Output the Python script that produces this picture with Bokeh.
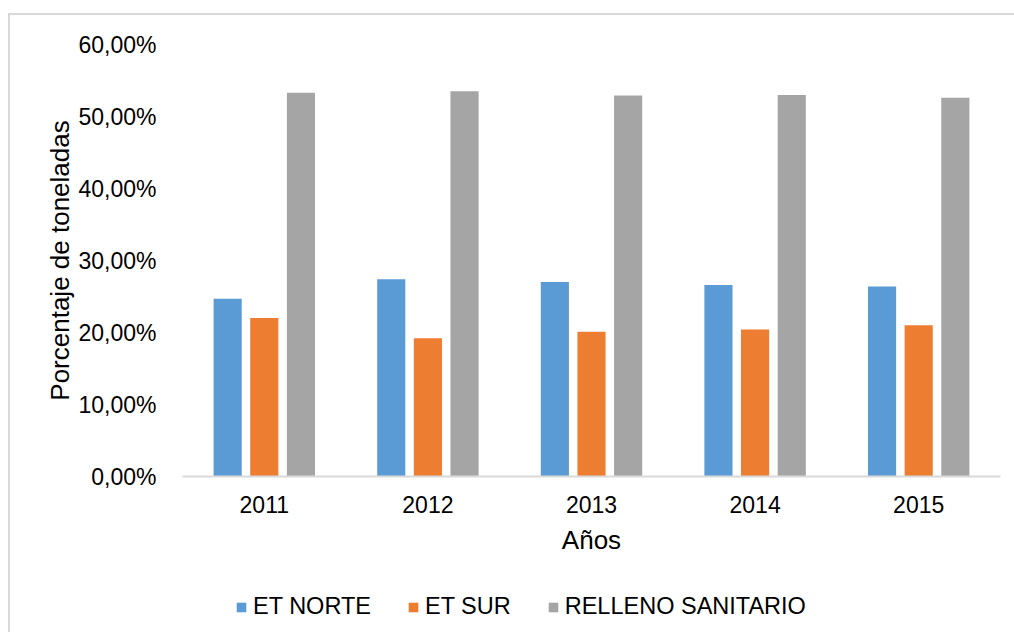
from bokeh.plotting import figure
from bokeh.models import FactorRange, Legend, LegendItem, FixedTicker, ColumnDataSource
from bokeh.transform import dodge
from bokeh.layouts import column
from bokeh.embed import file_html
from bokeh.resources import INLINE

# ---- data ----
years = ["2011", "2012", "2013", "2014", "2015"]
et_norte = [24.7, 27.4, 27.0, 26.6, 26.4]
et_sur = [22.0, 19.2, 20.1, 20.4, 21.0]
relleno = [53.3, 53.5, 52.9, 53.0, 52.6]
series_names = ["ET NORTE", "ET SUR", "RELLENO SANITARIO"]
y_ticks = [0, 10, 20, 30, 40, 50, 60]
y_tick_labels = ["0,00%", "10,00%", "20,00%", "30,00%", "40,00%", "50,00%", "60,00%"]

colors = ["#5B9BD5", "#ED7D31", "#A5A5A5"]
FONT = "Liberation Sans"
BORDER = "2px solid #d9d9d9"

src = ColumnDataSource(data=dict(years=years, norte=et_norte, sur=et_sur, relleno=relleno))

p = figure(
    x_range=FactorRange(factors=years, range_padding=0),
    y_range=(0, 60),
    width=1006, height=567,
    output_backend="svg", toolbar_location=None,
    min_border_left=172, min_border_right=16, min_border_top=29, min_border_bottom=106,
)
p.styles = {"border-top": BORDER, "border-left": BORDER}
p.outline_line_color = None
p.xgrid.grid_line_color = None
p.ygrid.grid_line_color = None
p.background_fill_color = "white"
p.border_fill_color = "white"

bw = 0.172
off = 0.224
p.vbar(x=dodge("years", -off, range=p.x_range), top="norte", width=bw, source=src,
       fill_color=colors[0], line_color=None)
p.vbar(x=dodge("years", 0.0, range=p.x_range), top="sur", width=bw, source=src,
       fill_color=colors[1], line_color=None)
p.vbar(x=dodge("years", off, range=p.x_range), top="relleno", width=bw, source=src,
       fill_color=colors[2], line_color=None)

# y axis
ya = p.yaxis[0]
ya.ticker = FixedTicker(ticks=y_ticks)
ya.major_label_overrides = {t: l for t, l in zip(y_ticks, y_tick_labels)}
ya.axis_line_color = None
ya.major_tick_line_color = None
ya.minor_tick_line_color = None
ya.major_label_text_font = FONT
ya.major_label_text_font_size = "23px"
ya.major_label_text_color = "black"
ya.major_label_standoff = 20
ya.axis_label = "Porcentaje de toneladas"
ya.axis_label_text_font = FONT
ya.axis_label_text_font_size = "26px"
ya.axis_label_text_font_style = "normal"
ya.axis_label_text_color = "black"
ya.axis_label_standoff = 0

# x axis
xa = p.xaxis[0]
xa.axis_line_color = "#d9d9d9"
xa.axis_line_width = 2
xa.major_tick_line_color = None
xa.minor_tick_line_color = None
xa.major_label_text_font = FONT
xa.major_label_text_font_size = "23px"
xa.major_label_text_color = "black"
xa.major_label_standoff = 13
xa.axis_label = "Años"
xa.axis_label_text_font = FONT
xa.axis_label_text_font_size = "26px"
xa.axis_label_text_font_style = "normal"
xa.axis_label_text_color = "black"
xa.axis_label_standoff = 9

# ---- legend strip ----
pl = figure(width=1006, height=52, output_backend="svg", toolbar_location=None,
            x_axis_type=None, y_axis_type=None,
            x_range=(0, 1), y_range=(0, 1),
            min_border_left=0, min_border_right=0, min_border_top=0, min_border_bottom=0)
pl.styles = {"border-left": BORDER}
pl.outline_line_color = None
pl.xgrid.grid_line_color = None
pl.ygrid.grid_line_color = None
pl.border_fill_color = "white"
# zero-height placeholder glyphs that only carry the legend swatch colours
lr = [pl.vbar(x=[0], bottom=[0], top=[0], width=0, fill_color=c, line_color=None)
      for c in colors]

legend = Legend(
    items=[LegendItem(label=n, renderers=[r]) for n, r in zip(series_names, lr)],
    orientation="horizontal",
    location=(53, 12),
    glyph_width=12, glyph_height=12,
    label_standoff=6, spacing=36, padding=0, margin=0,
    border_line_color=None, background_fill_alpha=0,
    label_text_font=FONT, label_text_font_size="23.5px", label_text_color="black",
)
pl.add_layout(legend, "center")

layout = column(p, pl, spacing=0)
layout.styles = {"margin-left": "8px", "margin-top": "13px"}

open("out.html", "w").write(file_html(layout, INLINE))
